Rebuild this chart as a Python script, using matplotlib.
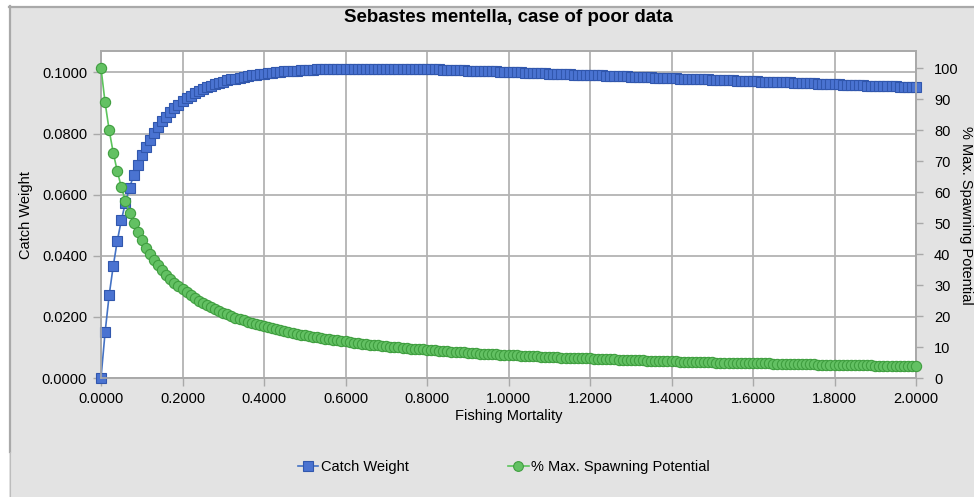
import numpy as np
import matplotlib.pyplot as plt
from matplotlib.patches import Rectangle
from matplotlib.lines import Line2D

plt.rcParams['font.family'] = ['Liberation Sans', 'DejaVu Sans']

# fishing mortality grid, 0.00 .. 2.00 by 0.01
fishing_mortality = np.linspace(0.0, 2.0, 201)

catch_weight = [
    0.0000, 0.0149, 0.0271, 0.0366, 0.0449, 0.0517, 0.0574, 0.0622, 0.0663, 0.0698,
    0.0729, 0.0756, 0.0780, 0.0802, 0.0822, 0.0840, 0.0855, 0.0869, 0.0882, 0.0894,
    0.0905, 0.0915, 0.0924, 0.0932, 0.0939, 0.0946, 0.0952, 0.0957, 0.0962, 0.0966,
    0.0970, 0.0974, 0.0977, 0.0980, 0.0983, 0.0986, 0.0988, 0.0990, 0.0992, 0.0994,
    0.0996, 0.0998, 0.0999, 0.1001, 0.1002, 0.1003, 0.1004, 0.1005, 0.1006, 0.1007,
    0.1008, 0.1009, 0.1009, 0.1010, 0.1010, 0.1011, 0.1011, 0.1011, 0.1012, 0.1012,
    0.1012, 0.1012, 0.1012, 0.1012, 0.1012, 0.1012, 0.1012, 0.1012, 0.1012, 0.1012,
    0.1012, 0.1012, 0.1012, 0.1012, 0.1012, 0.1012, 0.1011, 0.1011, 0.1011, 0.1011,
    0.1011, 0.1011, 0.1010, 0.1010, 0.1009, 0.1009, 0.1008, 0.1008, 0.1007, 0.1007,
    0.1006, 0.1006, 0.1005, 0.1005, 0.1004, 0.1004, 0.1003, 0.1003, 0.1002, 0.1002,
    0.1001, 0.1001, 0.1000, 0.1000, 0.0999, 0.0999, 0.0998, 0.0998, 0.0997, 0.0997,
    0.0996, 0.0996, 0.0995, 0.0995, 0.0994, 0.0994, 0.0993, 0.0993, 0.0992, 0.0992,
    0.0991, 0.0991, 0.0990, 0.0990, 0.0989, 0.0989, 0.0988, 0.0988, 0.0987, 0.0987,
    0.0986, 0.0986, 0.0985, 0.0985, 0.0984, 0.0984, 0.0983, 0.0983, 0.0982, 0.0982,
    0.0981, 0.0981, 0.0980, 0.0980, 0.0979, 0.0979, 0.0978, 0.0978, 0.0977, 0.0977,
    0.0976, 0.0976, 0.0975, 0.0975, 0.0974, 0.0974, 0.0973, 0.0973, 0.0972, 0.0972,
    0.0971, 0.0971, 0.0970, 0.0970, 0.0969, 0.0969, 0.0968, 0.0968, 0.0967, 0.0967,
    0.0966, 0.0966, 0.0965, 0.0965, 0.0964, 0.0964, 0.0963, 0.0963, 0.0962, 0.0962,
    0.0961, 0.0961, 0.0960, 0.0960, 0.0959, 0.0959, 0.0958, 0.0958, 0.0957, 0.0957,
    0.0956, 0.0956, 0.0955, 0.0955, 0.0954, 0.0954, 0.0953, 0.0953, 0.0952, 0.0952,
    0.0951,
]

spawning_potential = [
    100.0, 88.9, 80.0, 72.7, 66.7, 61.5, 57.1, 53.3, 50.0, 47.1,
    44.4, 42.1, 40.0, 38.1, 36.4, 34.8, 33.3, 32.0, 30.8, 29.6,
    28.6, 27.6, 26.7, 25.8, 25.0, 24.2, 23.5, 22.9, 22.2, 21.6,
    21.1, 20.5, 20.0, 19.5, 19.0, 18.6, 18.2, 17.8, 17.4, 17.0,
    16.7, 16.3, 16.0, 15.7, 15.4, 15.1, 14.8, 14.5, 14.3, 14.0,
    13.8, 13.6, 13.3, 13.1, 12.9, 12.7, 12.5, 12.3, 12.1, 11.9,
    11.8, 11.6, 11.4, 11.3, 11.1, 11.0, 10.8, 10.7, 10.5, 10.4,
    10.3, 10.1, 10.0, 9.9, 9.8, 9.7, 9.5, 9.4, 9.3, 9.2,
    9.1, 9.0, 8.9, 8.8, 8.7, 8.6, 8.5, 8.4, 8.3, 8.3,
    8.2, 8.1, 8.0, 7.9, 7.8, 7.8, 7.7, 7.6, 7.5, 7.5,
    7.4, 7.3, 7.3, 7.2, 7.1, 7.1, 7.0, 7.0, 6.9, 6.8,
    6.8, 6.7, 6.7, 6.6, 6.6, 6.5, 6.5, 6.4, 6.4, 6.3,
    6.3, 6.2, 6.2, 6.1, 6.1, 6.0, 6.0, 5.9, 5.9, 5.8,
    5.8, 5.8, 5.7, 5.7, 5.6, 5.6, 5.6, 5.5, 5.5, 5.4,
    5.4, 5.4, 5.3, 5.3, 5.3, 5.2, 5.2, 5.2, 5.1, 5.1,
    5.1, 5.0, 5.0, 5.0, 4.9, 4.9, 4.9, 4.9, 4.8, 4.8,
    4.8, 4.7, 4.7, 4.7, 4.7, 4.6, 4.6, 4.6, 4.5, 4.5,
    4.5, 4.5, 4.4, 4.4, 4.4, 4.4, 4.3, 4.3, 4.3, 4.3,
    4.3, 4.2, 4.2, 4.2, 4.2, 4.1, 4.1, 4.1, 4.1, 4.1,
    4.0, 4.0, 4.0, 4.0, 4.0, 3.9, 3.9, 3.9, 3.9, 3.9,
    3.9,
]

x_ticks = [0.0, 0.2, 0.4, 0.6, 0.8, 1.0, 1.2, 1.4, 1.6, 1.8, 2.0]
left_ticks = [0.0, 0.02, 0.04, 0.06, 0.08, 0.10]
right_ticks = [0, 10, 20, 30, 40, 50, 60, 70, 80, 90, 100]

W, H = 974, 497
BG = '#e3e3e3'
EDGE = '#a9a9a9'
FS = 10.5

fig = plt.figure(figsize=(W/100, H/100), dpi=100, facecolor=BG)

# white margin and frame lines around the chart area
fig.add_artist(Rectangle((0, 1-6/H), 1, 6/H, transform=fig.transFigure, color='white', lw=0))
fig.add_artist(Rectangle((0, 0), 9/W, 1, transform=fig.transFigure, color='white', lw=0))
fig.add_artist(Line2D([9/W, 1], [1-6.5/H, 1-6.5/H], transform=fig.transFigure, color=EDGE, lw=1.6))
fig.add_artist(Line2D([9.8/W, 9.8/W], [1-6/H, 1-452/H], transform=fig.transFigure, color=EDGE, lw=1.6))
fig.add_artist(Line2D([9.8/W, 9.8/W], [1-452/H, 0], transform=fig.transFigure, color='#bdbdbd', lw=0.8))

ax = fig.add_axes([101/W, 1-378/H, (916-101)/W, (378-51)/H])
ax.set_facecolor('white')
ax2 = ax.twinx()

ax.plot(fishing_mortality, catch_weight, color='#4472c4', lw=1.2, marker='s', ms=7.2,
        mfc='#4a73d1', mec='#3157ad', mew=0.8, clip_on=False, zorder=3)
ax2.plot(fishing_mortality, spawning_potential, color='#5cc45c', lw=1.2, marker='o', ms=7.4,
         mfc='#63c163', mec='#3f9e3f', mew=0.8, clip_on=False, zorder=3)

ax.set_xlim(0, 2.0)
ax.set_ylim(0, 0.107)
ax2.set_ylim(0, 105.5)

ax.set_xticks(x_ticks)
ax.set_xticklabels([f'{v:.4f}' for v in x_ticks])
ax.set_yticks(left_ticks)
ax.set_yticklabels([f'{v:.4f}' for v in left_ticks])
ax2.set_yticks(right_ticks)
ax2.set_yticklabels([str(v) for v in right_ticks])

ax.grid(color='#b3b3b3', lw=1.3)
ax.set_axisbelow(True)
for a in (ax, ax2):
    for s in a.spines.values():
        s.set_color(EDGE)
        s.set_linewidth(1.2)
ax.tick_params(axis='both', length=6, width=1, color=EDGE, labelsize=FS, pad=4)
ax2.tick_params(axis='y', length=5, width=1, color=EDGE, labelsize=FS, pad=8)

fig.text(508.5/W, 1-18/H, 'Sebastes mentella, case of poor data', ha='center', va='center',
         fontsize=13.5, fontweight='bold')
fig.text(508.5/W, 1-416/H, 'Fishing Mortality', ha='center', va='center', fontsize=FS)
fig.text(26/W, 1-215/H, 'Catch Weight', ha='center', va='center', rotation=90, fontsize=FS)
fig.text(966/W, 1-215/H, '% Max. Spawning Potential', ha='center', va='center', rotation=270, fontsize=FS)

handles = [
    Line2D([], [], color='#4472c4', lw=1.2, marker='s', ms=7, mfc='#4a73d1', mec='#3157ad', mew=0.8),
    Line2D([], [], color='#5cc45c', lw=1.2, marker='o', ms=7, mfc='#63c163', mec='#3f9e3f', mew=0.8),
]
fig.legend(handles, ['Catch Weight', '% Max. Spawning Potential'], loc='center',
           bbox_to_anchor=(504/W, 1-467/H), ncol=2, frameon=False, fontsize=FS,
           handlelength=1.4, handletextpad=0.2, columnspacing=6.8)

fig.savefig('out.png', dpi=100, facecolor=BG)
